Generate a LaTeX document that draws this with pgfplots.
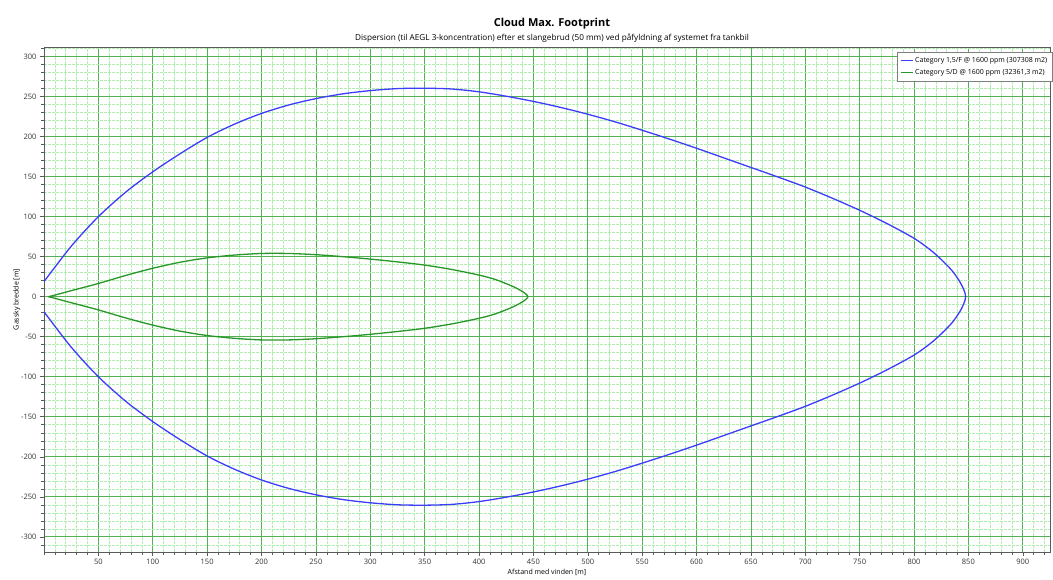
\documentclass[border=0pt]{standalone}
\usepackage{fontspec}
\setmainfont{Open Sans}
\usepackage{pgfplots}
\pgfplotsset{compat=1.18}
\definecolor{cblue}{RGB}{60,60,250}
\definecolor{cgreen}{RGB}{40,150,40}
\definecolor{gmajor}{RGB}{85,175,85}
\definecolor{gminor}{RGB}{175,238,175}
\definecolor{axgray}{RGB}{90,90,90}
\begin{document}
\begin{tikzpicture}
\useasboundingbox (-44pt,-27pt) rectangle (1009pt,552pt);
\begin{axis}[
  scale only axis, width=1006pt, height=505pt,
  xmin=0, xmax=925, ymin=-319, ymax=312,
  xtick={50,100,...,900}, ytick={-300,-250,...,300},
  minor xtick={0,10,20,30,40,60,70,80,90,110,120,130,140,160,170,180,190,210,220,230,240,260,270,280,290,310,320,330,340,360,370,380,390,410,420,430,440,460,470,480,490,510,520,530,540,560,570,580,590,610,620,630,640,660,670,680,690,710,720,730,740,760,770,780,790,810,820,830,840,860,870,880,890,910,920},
  minor ytick={-310,-290,-280,-270,-260,-240,-230,-220,-210,-190,-180,-170,-160,-140,-130,-120,-110,-90,-80,-70,-60,-40,-30,-20,-10,10,20,30,40,60,70,80,90,110,120,130,140,160,170,180,190,210,220,230,240,260,270,280,290,310},
  grid=both,
  major grid style={gmajor, line width=0.7pt},
  minor grid style={gminor, line width=0.5pt, dash pattern=on 3pt off 1pt},
  tick align=outside, major tick length=4pt, minor tick length=2.5pt,
  xtick pos=lower, ytick pos=left,
  tick style={axgray, line width=0.5pt},
  axis line style={axgray, line width=0.6pt},
  /pgf/number format/assume math mode=true,
  ticklabel style={font=\fontsize{7.5}{9}\selectfont, text=black!80},
  xlabel={Afstand med vinden [m]},
  ylabel={Gassky bredde [m]},
  xlabel style={font=\fontsize{7}{8}\selectfont, yshift=3pt},
  ylabel style={font=\fontsize{7}{8}\selectfont, yshift=-6pt},
  legend style={at={(0.848,0.990)}, anchor=north west, draw=gray,
    font=\fontsize{7}{8.4}\selectfont, inner sep=3pt, row sep=1.5pt,
    cells={anchor=west}},
  legend image code/.code={\draw[#1, line width=1pt] (0cm,0cm) -- (0.42cm,0cm);},
]
\addplot[cblue, line width=1.3pt, smooth] coordinates {
(0,18.8) (25,63) (50,100) (75,130.5) (100,156) (125,178.5) (150,199) (175,215.5)
(200,229) (225,239.5) (250,247.5) (275,253.5) (300,257.5) (325,260) (350,260.5)
(375,259.5) (400,256) (425,250.5) (450,244) (475,236.5) (500,228) (525,218.5)
(550,208) (575,197) (600,185.5) (625,173.5) (650,161.5) (675,149.5) (700,137)
(725,123) (750,108) (775,91.5) (800,73) (815,58.5) (825,46.5) (835,32.5)
(842,19) (846,8) (847.5,0)
(846,-8) (842,-19) (835,-32.5) (825,-46.5) (815,-58.5) (800,-73) (775,-91.5)
(750,-108) (725,-123) (700,-137) (675,-149.5) (650,-161.5) (625,-173.5)
(600,-185.5) (575,-197) (550,-208) (525,-218.5) (500,-228) (475,-236.5)
(450,-244) (425,-250.5) (400,-256) (375,-259.5) (350,-260.5) (325,-260)
(300,-257.5) (275,-253.5) (250,-247.5) (225,-239.5) (200,-229) (175,-215.5)
(150,-199) (125,-178.5) (100,-156) (75,-130.5) (50,-100) (25,-63) (0,-18.8)
};
\addlegendentry{Category 1,5/F @ 1600 ppm (307308 m2)}
\addplot[cgreen, line width=1.3pt, smooth] coordinates {
(4,0) (10,2) (25,7.5) (50,16.5) (75,26.5) (100,35.5) (125,43) (150,48.5)
(175,52) (200,54) (225,54) (250,52.5) (275,50) (300,47) (325,43.5) (350,39.5)
(375,34) (400,27) (415,21.5) (430,13.5) (438,8) (443,3.5) (445,0)
(443,-3.5) (438,-8) (430,-13.5) (415,-21.5) (400,-27) (375,-34) (350,-39.5)
(325,-43.5) (300,-47) (275,-50) (250,-52.5) (225,-54) (200,-54) (175,-52)
(150,-48.5) (125,-43) (100,-35.5) (75,-26.5) (50,-16.5) (25,-7.5) (10,-2) (4,0)
};
\addlegendentry{Category 5/D @ 1600 ppm (32361,3 m2)}
\end{axis}
\node[font=\bfseries\fontsize{11}{13}\selectfont, xshift=5pt, yshift=23pt] at (current axis.north) {Cloud Max. Footprint};
\node[font=\fontsize{8.2}{9.5}\selectfont, xshift=5pt, yshift=9pt] at (current axis.north) {Dispersion (til AEGL 3-koncentration) efter et slangebrud (50 mm) ved påfyldning af systemet fra tankbil};
\end{tikzpicture}
\end{document}
